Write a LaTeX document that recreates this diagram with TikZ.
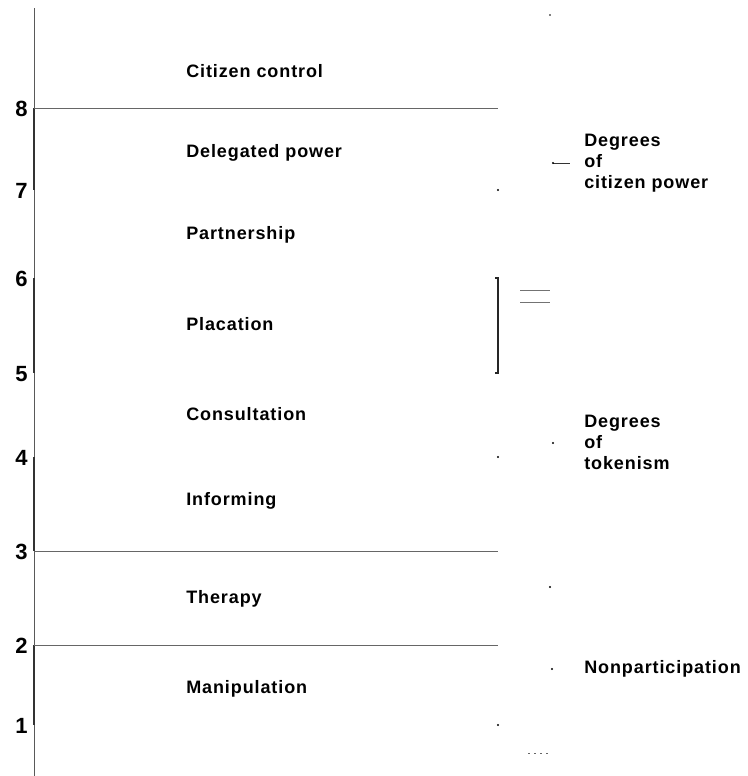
\documentclass[tikz,border=0pt]{standalone}
\usepackage{fontspec}
\setmainfont{Liberation Sans}
\newfontfamily\lblfont{Liberation Sans Bold}[LetterSpace=5]
\begin{document}
\begin{tikzpicture}[x=0.75pt,y=-0.75pt,
  axisline/.style={draw=black!65,line width=0.75pt},
  thickseg/.style={draw=black!80,line width=1.5pt},
  rungline/.style={draw=black!60,line width=0.75pt},
  lvl/.style={anchor=base west,inner sep=0pt,font={\lblfont\fontsize{13.5}{15.75}\selectfont}},
  side/.style={anchor=base west,inner sep=0pt,align=left,font={\lblfont\fontsize{13.5}{15.75}\selectfont}},
  num/.style={anchor=east,inner sep=0pt,font={\bfseries\fontsize{16.5}{18}\selectfont}},
  speck/.style={fill=black,draw=none,circle,inner sep=0pt,minimum size=1.6pt},
  grayline/.style={draw=black!55,line width=0.75pt}]
\useasboundingbox (0,0) rectangle (748,776);
% axis and tick coordinates
\coordinate (top) at (34,8);
\coordinate (bot) at (34,776);
\foreach \n/\y in {8/108,7/190,6/278,5/373,4/457,3/551,2/645,1/725}{
  \coordinate (t\n) at (34,\y);
  \node[num] (n\n) at (28,\y+1) {\n};
}
\draw[axisline] (top) -- (bot);
\draw[thickseg] (t8) -- (t7);
\draw[thickseg] (t6) -- (t5);
\draw[thickseg] (t4) -- (t3);
\draw[thickseg] (t2) -- (t1);
% rung ends
\coordinate (r8) at (498,108);
\coordinate (r3) at (498,551);
\coordinate (r2) at (498,645);
\draw[rungline] (t8) -- (r8);
\draw[rungline] (t3) -- (r3);
\draw[rungline] (t2) -- (r2);
\node[speck] (d7) at (498,190) {};
\node[speck] (d4) at (498,457) {};
\node[speck] (d1) at (498,725) {};
% bracket
\coordinate (bt) at (498,278);
\coordinate (bb) at (498,373);
\draw[draw=black!85,line width=1.1pt] ([xshift=-2]bt) -- (bt) -- (bb) -- ([xshift=-2]bb);
% double line
\coordinate (dl1) at (520,290);
\coordinate (dr1) at (550,290);
\coordinate (dl2) at (520,302);
\coordinate (dr2) at (550,302);
\draw[grayline] (dl1) -- (dr1);
\draw[grayline] (dl2) -- (dr2);
% rung labels
\node[lvl] (cc) at (186,77) {Citizen control};
\node[lvl] (dp) at (186,157) {Delegated power};
\node[lvl] (pa) at (186,239) {Partnership};
\node[lvl] (pl) at (186,330) {Placation};
\node[lvl] (co) at (186,420) {Consultation};
\node[lvl] (in) at (186,505) {Informing};
\node[lvl] (th) at (186,603) {Therapy};
\node[lvl] (ma) at (186,693) {Manipulation};
% side labels (base = last line)
\node[side] (cp) at (584,188) {Degrees\\of\\citizen power};
\node[side] (tk) at (584,469) {Degrees\\of\\tokenism};
\node[side] (np) at (584,673) {Nonparticipation};
% small marks
\coordinate (cpd1) at (553,163);
\coordinate (cpd2) at (570,163);
\draw[draw=black!80,line width=0.75pt] (cpd1) -- (cpd2);
\node[speck] (cpdot) at (cpd1) {};
\node[speck,minimum size=1.2pt] (s0) at (550,15) {};
\node[speck] (s1) at (553,443) {};
\node[speck] (s2) at (550,587) {};
\node[speck] (s3) at (552,669) {};
\coordinate (dd1) at (528,753);
\coordinate (dd2) at (551,753);
\draw[draw=black!60,line width=0.75pt,dash pattern=on 1.5pt off 3pt] (dd1) -- (dd2);
\end{tikzpicture}
\end{document}
